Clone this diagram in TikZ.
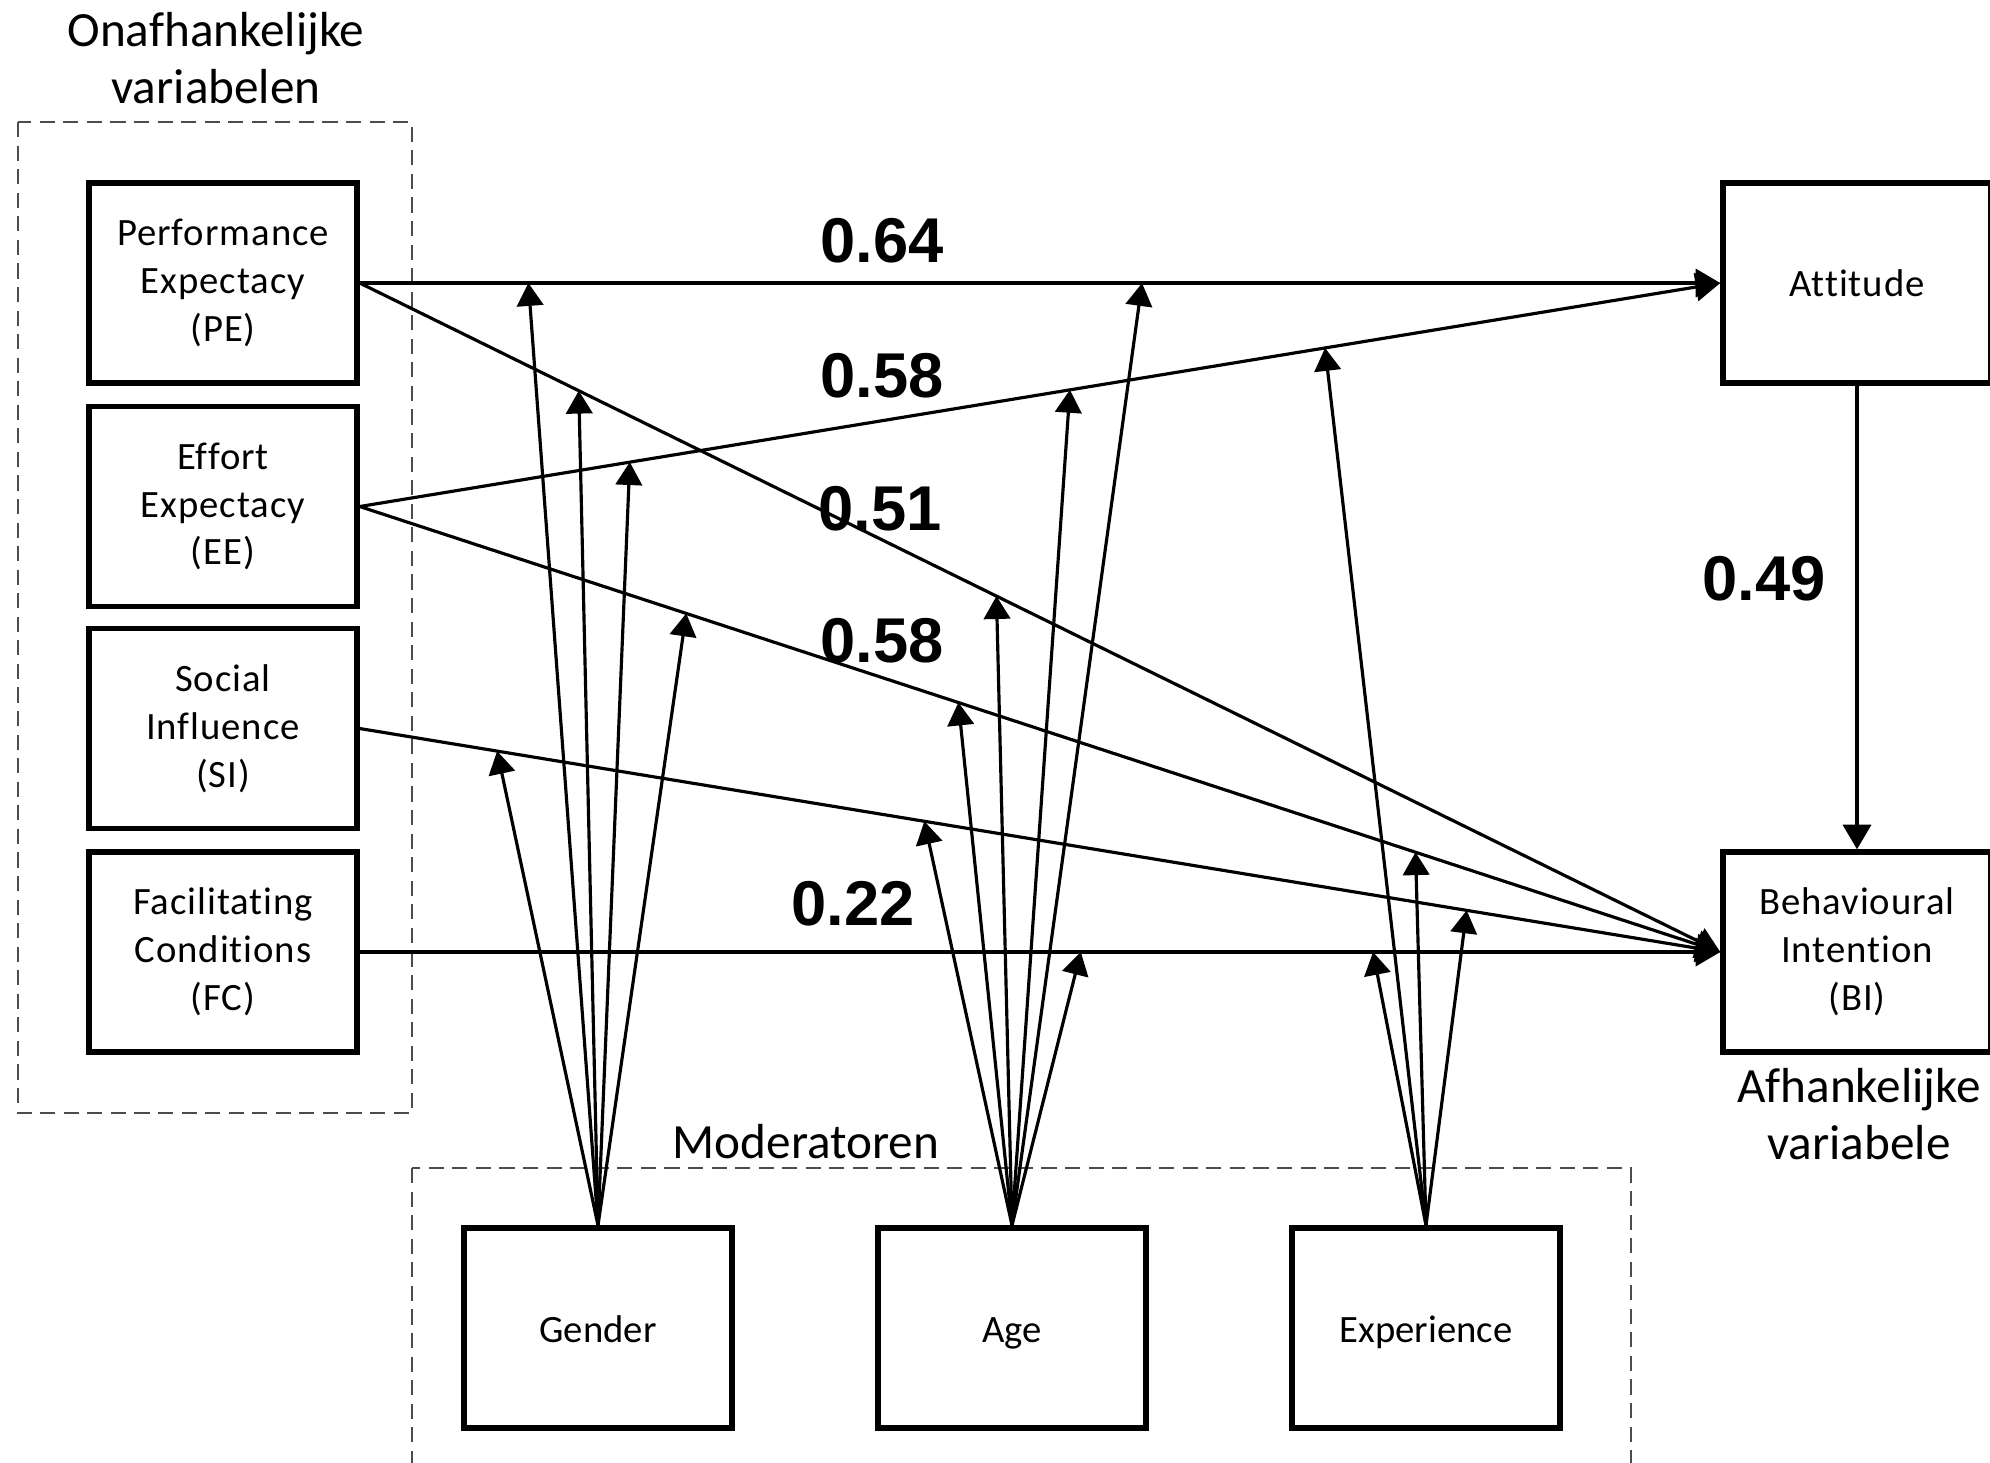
\documentclass[tikz,border=0pt]{standalone}
\usepackage{fontspec}
\setmainfont{Carlito}[Ligatures=CommonOff]
\newfontfamily\spacedfont{Carlito}[Ligatures=CommonOff,LetterSpace=2.5]
\newfontfamily\numfont{Liberation Sans}
\usetikzlibrary{arrows.meta,calc}
\begin{document}
\begin{tikzpicture}[x=0.01cm,y=-0.01cm,
  box/.style={draw,line width=1.5pt,minimum width=2.68cm,minimum height=2.0cm,inner sep=0pt,align=center,font=\spacedfont\fontsize{11}{13.6}\selectfont},
  modbox/.style={box,font=\fontsize{11}{13.6}\selectfont,text height=8.4pt,text depth=0pt},
  grp/.style={draw=black!70,line width=0.45pt,dash pattern=on 4.3pt off 2.4pt},
  mainarr/.style={line width=0.9pt,-{Triangle[length=7pt,width=8pt]}},
  modarr/.style={line width=0.9pt,-{Triangle[length=6.5pt,width=7.5pt]}},
  coef/.style={inner sep=0pt,font=\numfont\bfseries\fontsize{18}{20}\selectfont},
  ttl/.style={align=center,inner sep=0pt,font=\fontsize{14}{16.2}\selectfont}]
\useasboundingbox (0,0) rectangle (1990,1462);
\fill[white] (0,0) rectangle (1990,1462);

% group frames
\draw[grp] (18,122) rectangle (412,1113);
\draw[grp] (412,1168) rectangle (1631,1520);

% titles
\node[ttl] (tleft) at (216,58) {Onafhankelijke\\variabelen};
\node[ttl] (tright) at (1859,1114) {Afhankelijke\\variabele};
\node[ttl] (tmod) at (806,1142) {Moderatoren};

% boxes
\node[box] (PE) at (223,283) {Performance\\Expectacy\\(PE)};
\node[box] (EE) at (223,506.5) {Effort\\Expectacy\\(EE)};
\node[box] (SI) at (223,728.5) {Social\\Influence\\(SI)};
\node[box] (FC) at (223,952) {Facilitating\\Conditions\\(FC)};
\node[box] (ATT) at (1857,283) {Attitude};
\node[box] (BI) at (1857,952) {Behavioural\\Intention\\(BI)};
\node[modbox] (GEN) at (598,1328) {Gender};
\node[modbox] (AGE) at (1012,1328) {Age};
\node[modbox] (EXP) at (1426,1328) {Experience};

% main paths
\draw[mainarr] (PE.east) -- (ATT.west);
\draw[mainarr] (EE.east) -- (ATT.west);
\draw[mainarr] (PE.east) -- (BI.west);
\draw[mainarr] (EE.east) -- (BI.west);
\draw[mainarr] (SI.east) -- (BI.west);
\draw[mainarr] (FC.east) -- (BI.west);
\draw[mainarr] (ATT.south) -- (BI.north);

% coefficients
\node[coef] (c1) at (882,241) {0.64};
\node[coef] (c2) at (882,376) {0.58};
\node[coef] (c3) at (880,509) {0.51};
\node[coef] (c4) at (882,641) {0.58};
\node[coef] (c5) at (853,904) {0.22};
\node[coef] (c6) at (1764,579) {0.49};

% moderator arrows: Gender
\draw[modarr] (GEN.north) -- ($(PE.east)!0.124!(ATT.west)$);
\draw[modarr] (GEN.north) -- ($(PE.east)!0.161!(BI.west)$);
\draw[modarr] (GEN.north) -- ($(EE.east)!0.1985!(ATT.west)$);
\draw[modarr] (GEN.north) -- ($(EE.east)!0.240!(BI.west)$);
\draw[modarr] (GEN.north) -- ($(SI.east)!0.101!(BI.west)$);
% Age
\draw[modarr] (AGE.north) -- ($(PE.east)!0.575!(ATT.west)$);
\draw[modarr] (AGE.north) -- ($(EE.east)!0.522!(ATT.west)$);
\draw[modarr] (AGE.north) -- ($(PE.east)!0.468!(BI.west)$);
\draw[modarr] (AGE.north) -- ($(EE.east)!0.440!(BI.west)$);
\draw[modarr] (AGE.north) -- ($(SI.east)!0.415!(BI.west)$);
\draw[modarr] (AGE.north) -- ($(FC.east)!0.530!(BI.west)$);
% Experience
\draw[modarr] (EXP.north) -- ($(EE.east)!0.7095!(ATT.west)$);
\draw[modarr] (EXP.north) -- ($(EE.east)!0.776!(BI.west)$);
\draw[modarr] (EXP.north) -- ($(SI.east)!0.8136!(BI.west)$);
\draw[modarr] (EXP.north) -- ($(FC.east)!0.7448!(BI.west)$);
\end{tikzpicture}
\end{document}
